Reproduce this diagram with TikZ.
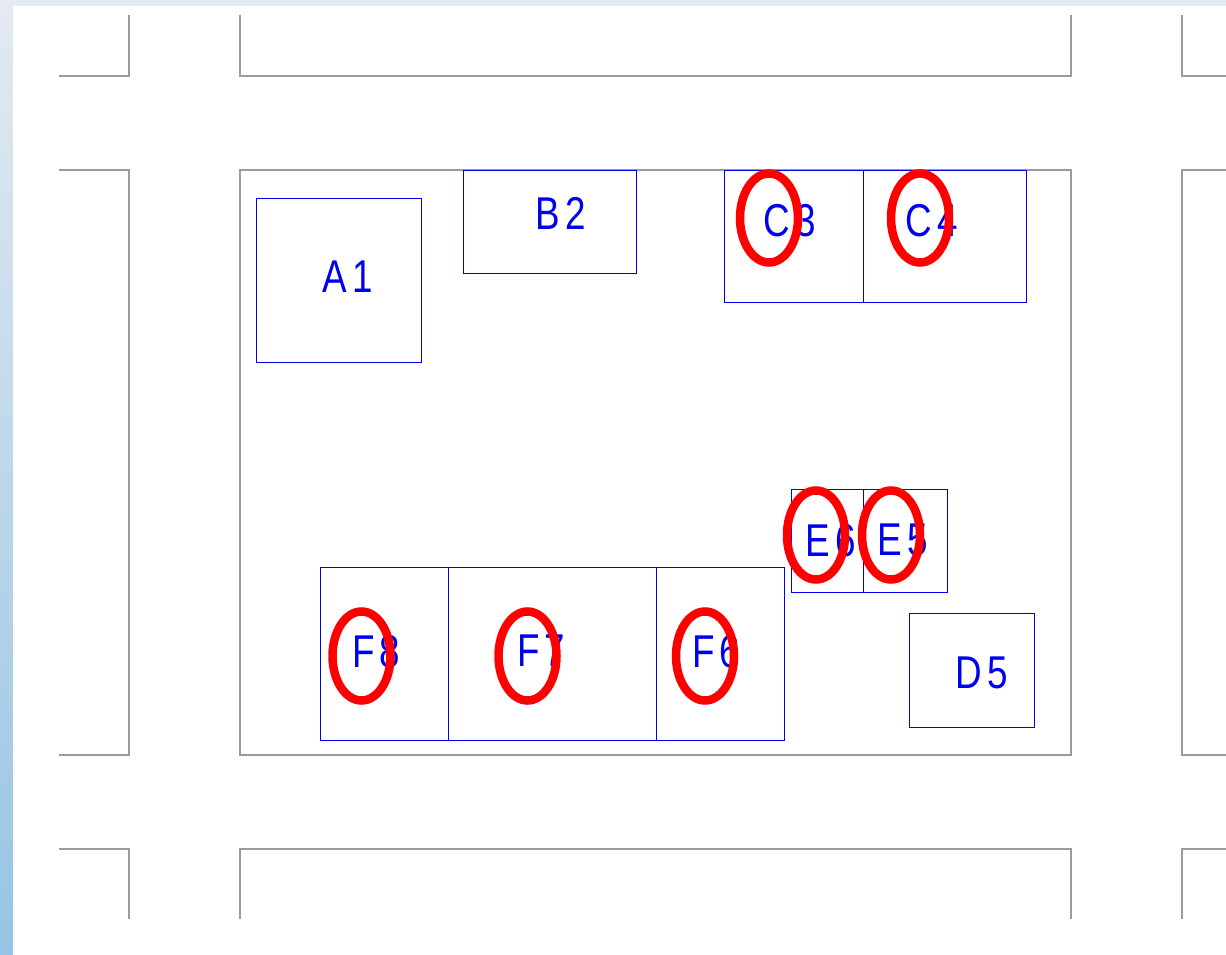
\documentclass[tikz,border=0pt]{standalone}
\usepackage{fontspec}
\usetikzlibrary{shapes.geometric}
\newfontfamily\lab[FakeStretch=0.8,LetterSpace=11]{Liberation Sans}
\definecolor{bgtop}{RGB}{228,234,240}
\definecolor{bgbot}{RGB}{150,196,228}
\definecolor{grayline}{RGB}{155,155,155}
\definecolor{boxblue}{RGB}{0,0,240}
\begin{document}
\begin{tikzpicture}[x=1pt,y=-1pt,
  bx/.style={draw=boxblue,line width=1pt,inner sep=0pt,outer sep=0pt},
  lbl/.style={text=boxblue,inner sep=0pt,font=\lab\fontsize{46}{46}\selectfont,text depth=0pt},
  ell/.style={ellipse,draw=red,line width=8.5pt,inner sep=0pt,minimum width=58pt,minimum height=89pt},
  frame/.style={draw=grayline,line width=1.3pt}]
\useasboundingbox (0,0) rectangle (1226,955);
% background
\fill[bgtop] (0,0) rectangle (1226,955);
\shade[top color=bgtop,bottom color=bgbot] (0,0) rectangle (13,955);
\fill[white] (13,6) rectangle (1226,955);
% gray frame lines
\draw[frame] (59,76) -- (129,76) -- (129,15);
\draw[frame] (240,15) -- (240,76) -- (1071,76) -- (1071,15);
\draw[frame] (1182,15) -- (1182,76) -- (1226,76);
\draw[frame] (59,170) -- (129,170) -- (129,755) -- (59,755);
\draw[frame] (240,170) rectangle (1071,755);
\draw[frame] (1226,170) -- (1182,170) -- (1182,755) -- (1226,755);
\draw[frame] (59,849) -- (129,849) -- (129,919);
\draw[frame] (240,919) -- (240,849) -- (1071,849) -- (1071,919);
\draw[frame] (1182,919) -- (1182,849) -- (1226,849);
% boxes
\node[bx,minimum width=165pt,minimum height=164pt] (bA1) at (338.5,280) {};
\node[bx,minimum width=173pt,minimum height=103pt] (bB2) at (549.5,221.5) {};
\node[bx,minimum width=139pt,minimum height=132pt] (bC3) at (793.5,236) {};
\node[bx,minimum width=163pt,minimum height=132pt] (bC4) at (944.5,236) {};
\node[bx,minimum width=72pt,minimum height=103pt] (bE6) at (827,540.5) {};
\node[bx,minimum width=84pt,minimum height=103pt] (bE5) at (905,540.5) {};
\node[bx,minimum width=125pt,minimum height=114pt] (bD5) at (971.5,670) {};
\node[bx,minimum width=128pt,minimum height=173pt] (bF8) at (384,653.5) {};
\node[bx,minimum width=208pt,minimum height=173pt] (bF7) at (552,653.5) {};
\node[bx,minimum width=128pt,minimum height=173pt] (bF6) at (720,653.5) {};
% labels
\node[lbl] (tA1) at (348,277) {A1};
\node[lbl] (tB2) at (561,213) {B2};
\node[lbl] (tC3) at (790,220) {C3};
\node[lbl] (tC4) at (932,220) {C4};
\node[lbl] (tE6) at (831,540) {E6};
\node[lbl] (tE5) at (903,540) {E5};
\node[lbl] (tD5) at (982,673) {D5};
\node[lbl] (tF8) at (376,651) {F8};
\node[lbl] (tF7) at (541,651) {F7};
\node[lbl] (tF6) at (716,651) {F6};
% red ellipses
\node[ell] (eC3) at (769,218) {};
\node[ell] (eC4) at (920,218) {};
\node[ell] (eE6) at (816,535) {};
\node[ell] (eE5) at (891,535) {};
\node[ell] (eF8) at (361.5,656) {};
\node[ell] (eF7) at (527.5,656) {};
\node[ell] (eF6) at (705,656) {};
\end{tikzpicture}
\end{document}
